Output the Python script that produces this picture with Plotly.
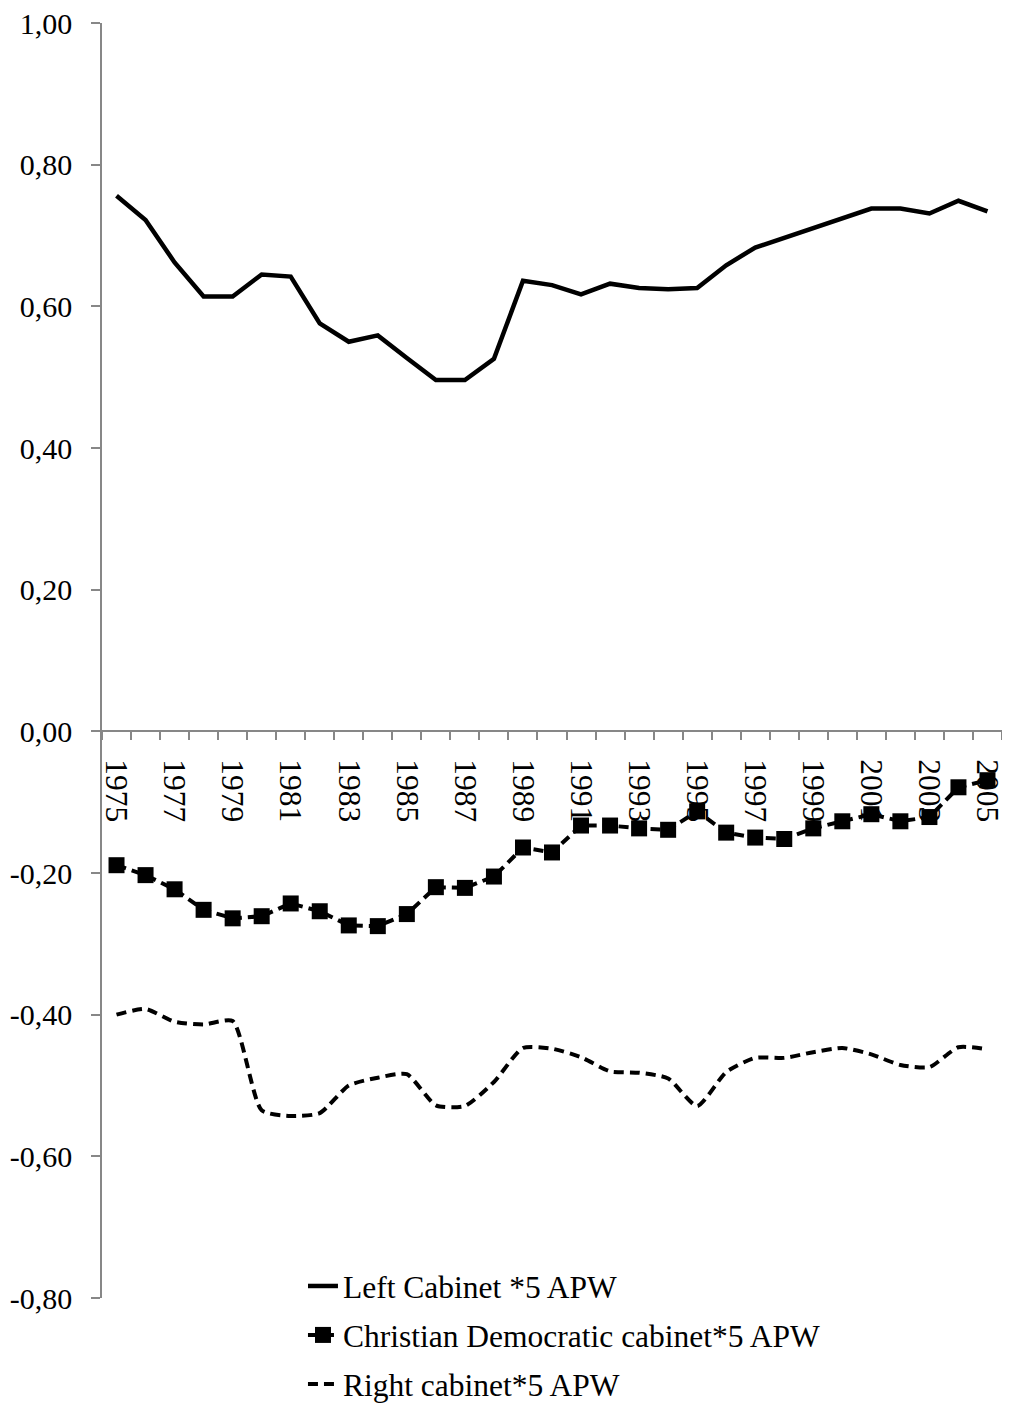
import plotly.graph_objects as go

years = list(range(1975, 2006))

left_cabinet = [0.756, 0.722, 0.662, 0.614, 0.614, 0.645, 0.642, 0.576, 0.550, 0.559,
                0.527, 0.496, 0.496, 0.526, 0.636, 0.630, 0.617, 0.632, 0.626, 0.624,
                0.626, 0.658, 0.683, 0.697, 0.711, 0.724, 0.738, 0.738, 0.731, 0.749, 0.734]

christian_dem = [-0.189, -0.203, -0.223, -0.252, -0.264, -0.261, -0.243, -0.254, -0.274, -0.275,
                 -0.258, -0.220, -0.221, -0.205, -0.164, -0.171, -0.133, -0.133, -0.137, -0.139,
                 -0.113, -0.143, -0.150, -0.152, -0.137, -0.127, -0.117, -0.127, -0.121, -0.079, -0.069]

right_cabinet = [-0.400, -0.392, -0.410, -0.414, -0.409, -0.535, -0.543, -0.539, -0.500, -0.489,
                 -0.484, -0.528, -0.529, -0.495, -0.447, -0.448, -0.460, -0.480, -0.482, -0.490,
                 -0.529, -0.481, -0.461, -0.461, -0.453, -0.447, -0.456, -0.471, -0.474, -0.446, -0.449]

label_years = list(range(1975, 2006, 2))
y_ticks = [-0.8, -0.6, -0.4, -0.2, 0.0, 0.2, 0.4, 0.6, 0.8, 1.0]
y_tick_text = ["-0,80", "-0,60", "-0,40", "-0,20", "0,00", "0,20", "0,40", "0,60", "0,80", "1,00"]

FONT = "Liberation Serif"
AXIS_GRAY = "#878787"

fig = go.Figure()
fig.add_trace(go.Scatter(
    x=years, y=left_cabinet, mode="lines", name="Left Cabinet *5 APW",
    line=dict(color="black", width=4.5), legendgroup="a", cliponaxis=False))
fig.add_trace(go.Scatter(
    x=years, y=christian_dem, mode="lines+markers", name="Christian Democratic cabinet*5 APW",
    line=dict(color="black", width=4, dash="10px,6px"),
    marker=dict(symbol="square", size=16, color="black"), legendgroup="b", cliponaxis=False))
fig.add_trace(go.Scatter(
    x=years, y=right_cabinet, mode="lines", name="Right cabinet*5 APW",
    line=dict(color="black", width=4, dash="10px,6px", shape="spline", smoothing=0.6),
    legendgroup="c", cliponaxis=False))

fig.update_layout(
    width=994, height=1403, autosize=False,
    margin=dict(l=94, r=0, t=15, b=111),
    paper_bgcolor="white", plot_bgcolor="white",
    font=dict(family=FONT, color="black", size=30),
    legend=dict(x=0.2233, y=0.0305, xanchor="left", yanchor="top",
                font=dict(family=FONT, size=31.5, color="black"),
                bgcolor="rgba(0,0,0,0)", tracegroupgap=5, traceorder="grouped"),
    xaxis=dict(
        range=[1974.5, 2005.5], tickmode="array", tickvals=label_years,
        ticktext=[str(y) for y in label_years], tickangle=90,
        ticks="", showgrid=False, zeroline=False, automargin=False,
        showline=True, linecolor=AXIS_GRAY, linewidth=1.5,
        anchor="free", position=0.8 / 1.8, ticklabeloverflow="allow",
        ticklabelstandoff=21, layer="below traces",
        tickfont=dict(family=FONT, size=31.5, color="black"),
        minor=dict(ticks="outside", tick0=1974.5, dtick=1, ticklen=8,
                   tickcolor=AXIS_GRAY, tickwidth=1.5, showgrid=False),
    ),
    yaxis=dict(
        range=[-0.8, 1.0], tickmode="array", tickvals=y_ticks, ticktext=y_tick_text,
        ticks="outside", ticklen=9, tickcolor=AXIS_GRAY, tickwidth=1.5,
        showgrid=False, zeroline=False, showline=True, linecolor=AXIS_GRAY, linewidth=1.5,
        ticklabelstandoff=13, automargin=False, ticklabeloverflow="allow",
        tickfont=dict(family=FONT, size=30, color="black"),
    ),
)

fig.write_html("out.html")
